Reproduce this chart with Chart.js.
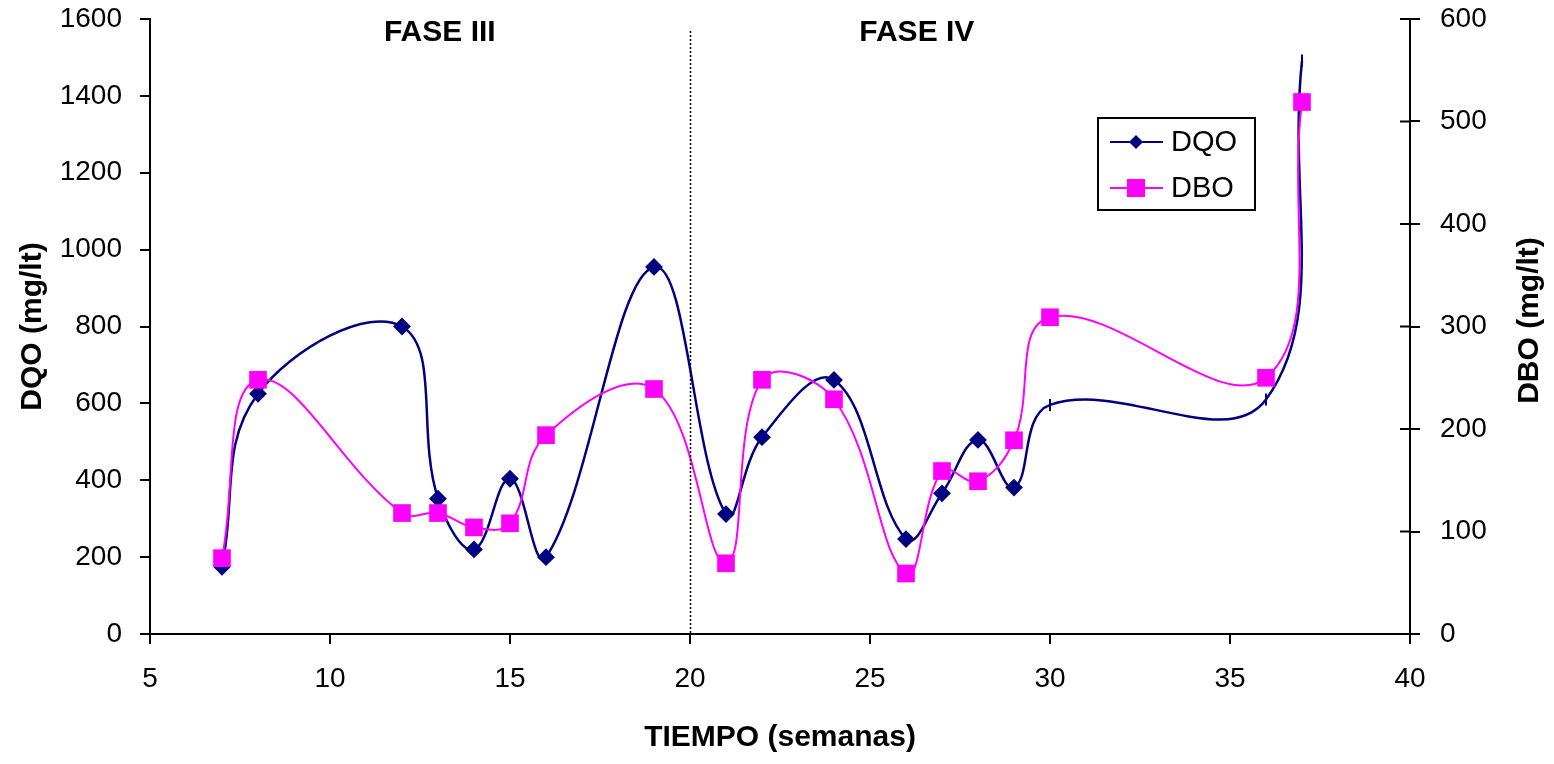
<!DOCTYPE html>
<html>
<head>
<meta charset="utf-8">
<script src="https://cdn.jsdelivr.net/npm/chart.js@4.4.0/dist/chart.umd.min.js"></script>
<style>
  html, body { margin: 0; padding: 0; background: #fff; }
</style>
</head>
<body>
<canvas id="grafico" width="1554" height="764"></canvas>
<script>
// datos
const semanas = [7, 8, 12, 13, 14, 15, 16, 19, 21, 22, 24, 26, 27, 28, 29, 30, 36, 37];
const dqo = [175, 625, 800, 352, 220, 404, 200, 955, 312, 512, 661, 247, 366, 505, 381, 596, 610, 1492];
const dbo = [74, 248, 118, 118, 104, 108, 194, 239, 69, 248, 229, 59, 159, 149, 189, 309, 250, 519];
const ticksX = [5, 10, 15, 20, 25, 30, 35, 40];
const ticksDQO = [0, 200, 400, 600, 800, 1000, 1200, 1400, 1600];
const ticksDBO = [0, 100, 200, 300, 400, 500, 600];
const semanasSinRombo = [30, 36, 37];

const fuente = '"Liberation Sans", Arial, sans-serif';
const azul = '#000080';
const rosa = '#FF00FF';

function fijarTicks(valores) {
    return scale => { scale.ticks = valores.map(v => ({ value: v })); };
}

// ancho fijo y sin relleno extra arriba/abajo, para que el area quede donde en el original
function anchoFijo(ancho) {
    return scale => {
        scale.width = ancho;
        scale.paddingTop = 0;
        scale.paddingBottom = 0;
    };
}

const extras = {
    id: 'extras',
    afterDraw(chart) {
        const ctx = chart.ctx;
        const area = chart.chartArea;
        const x = chart.scales.x;
        const yDer = chart.scales.yDBO;
        ctx.save();

        // linea punteada entre fases
        let xf = Math.round(x.getPixelForValue(20)) + 0.5;
        ctx.strokeStyle = '#000';
        ctx.lineWidth = 1.5;
        ctx.setLineDash([2, 2]);
        ctx.beginPath();
        ctx.moveTo(xf, area.top + 12);
        ctx.lineTo(xf, area.bottom);
        ctx.stroke();
        ctx.setLineDash([]);

        // titulos de fase
        ctx.fillStyle = '#000';
        ctx.font = 'bold 30px ' + fuente;
        ctx.textAlign = 'center';
        ctx.textBaseline = 'middle';
        ctx.fillText('FASE III', x.getPixelForValue(13.05), area.top + 14);
        ctx.fillText('FASE IV', x.getPixelForValue(26.3), area.top + 14);

        // marcas del eje derecho hacia dentro
        ctx.lineWidth = 2;
        ctx.strokeStyle = '#000';
        yDer.ticks.forEach(t => {
            let y = yDer.getPixelForValue(t.value);
            ctx.beginPath();
            ctx.moveTo(area.right - 10, y);
            ctx.lineTo(area.right, y);
            ctx.stroke();
        });

        // titulo eje derecho
        ctx.save();
        ctx.translate(1530, (area.top + area.bottom) / 2 - 6);
        ctx.rotate(-Math.PI / 2);
        ctx.font = 'bold 30px ' + fuente;
        ctx.fillText('DBO (mg/lt)', 0, 0);
        ctx.restore();

        // leyenda
        ctx.lineWidth = 2;
        ctx.strokeStyle = '#000';
        ctx.strokeRect(1098, 118, 157, 92);
        ctx.font = '29px ' + fuente;
        ctx.textAlign = 'left';

        ctx.strokeStyle = azul;
        ctx.beginPath();
        ctx.moveTo(1110, 142);
        ctx.lineTo(1163, 142);
        ctx.stroke();
        ctx.fillStyle = azul;
        ctx.beginPath();
        ctx.moveTo(1136, 135);
        ctx.lineTo(1143, 142);
        ctx.lineTo(1136, 149);
        ctx.lineTo(1129, 142);
        ctx.closePath();
        ctx.fill();
        ctx.fillStyle = '#000';
        ctx.fillText('DQO', 1171, 143);

        ctx.strokeStyle = rosa;
        ctx.beginPath();
        ctx.moveTo(1110, 188);
        ctx.lineTo(1163, 188);
        ctx.stroke();
        ctx.fillStyle = rosa;
        ctx.fillRect(1127, 179, 18, 18);
        ctx.fillStyle = '#000';
        ctx.fillText('DBO', 1171, 189);

        ctx.restore();
    }
};

let config = {
    type: 'line',
    data: {
        datasets: [
            {
                label: 'DQO',
                data: semanas.map((s, i) => ({ x: s, y: dqo[i] })),
                yAxisID: 'yDQO',
                borderColor: azul,
                backgroundColor: azul,
                borderWidth: 2.5,
                tension: 0.4,
                pointStyle: c => semanasSinRombo.includes(semanas[c.dataIndex]) ? 'line' : 'rectRot',
                pointRotation: c => semanasSinRombo.includes(semanas[c.dataIndex]) ? 90 : 0,
                pointRadius: c => semanasSinRombo.includes(semanas[c.dataIndex]) ? 6 : 7.5,
                pointBorderWidth: 2,
                pointBorderColor: azul,
                pointBackgroundColor: azul,
                order: 2
            },
            {
                label: 'DBO',
                data: semanas.map((s, i) => ({ x: s, y: dbo[i] })),
                yAxisID: 'yDBO',
                borderColor: rosa,
                backgroundColor: rosa,
                borderWidth: 2,
                tension: 0.4,
                pointStyle: 'rect',
                pointRadius: 12.5,
                pointBorderWidth: 0,
                pointBackgroundColor: rosa,
                order: 1
            }
        ]
    },
    options: {
        responsive: false,
        animation: false,
        devicePixelRatio: 1,
        layout: { padding: { top: 19, left: 0, right: 0, bottom: 0 } },
        plugins: {
            legend: { display: false },
            tooltip: { enabled: false }
        },
        scales: {
            x: {
                type: 'linear',
                min: 5,
                max: 40,
                afterBuildTicks: fijarTicks(ticksX),
                afterFit: s => { s.height = 130; },
                border: { display: true, color: '#000', width: 2 },
                grid: { drawOnChartArea: false, drawTicks: true, tickLength: 10, color: '#000', lineWidth: 2 },
                ticks: { color: '#000', padding: 18, font: { family: fuente, size: 28 }, maxRotation: 0, callback: v => String(v) },
                title: {
                    display: true,
                    text: 'TIEMPO (semanas)',
                    color: '#000',
                    font: { family: fuente, size: 30, weight: 'bold' },
                    padding: { top: 0, bottom: 8 }
                }
            },
            yDQO: {
                type: 'linear',
                position: 'left',
                min: 0,
                max: 1600,
                afterBuildTicks: fijarTicks(ticksDQO),
                afterFit: anchoFijo(150),
                border: { display: true, color: '#000', width: 2 },
                grid: { drawOnChartArea: false, drawTicks: true, tickLength: 10, color: '#000', lineWidth: 2 },
                ticks: { color: '#000', padding: 18, font: { family: fuente, size: 28 }, callback: v => String(v) },
                title: {
                    display: true,
                    text: 'DQO (mg/lt)',
                    color: '#000',
                    font: { family: fuente, size: 30, weight: 'bold' },
                    padding: { top: 15, bottom: 0 }
                }
            },
            yDBO: {
                type: 'linear',
                position: 'right',
                min: 0,
                max: 600,
                afterBuildTicks: fijarTicks(ticksDBO),
                afterFit: anchoFijo(144),
                border: { display: true, color: '#000', width: 2 },
                grid: { drawOnChartArea: false, drawTicks: true, tickLength: 10, color: '#000', lineWidth: 2 },
                ticks: { color: '#000', padding: 20, font: { family: fuente, size: 28 }, callback: v => String(v) }
            }
        }
    },
    plugins: [extras]
};

let grafico = new Chart(document.getElementById('grafico').getContext('2d'), config);
</script>
</body>
</html>
